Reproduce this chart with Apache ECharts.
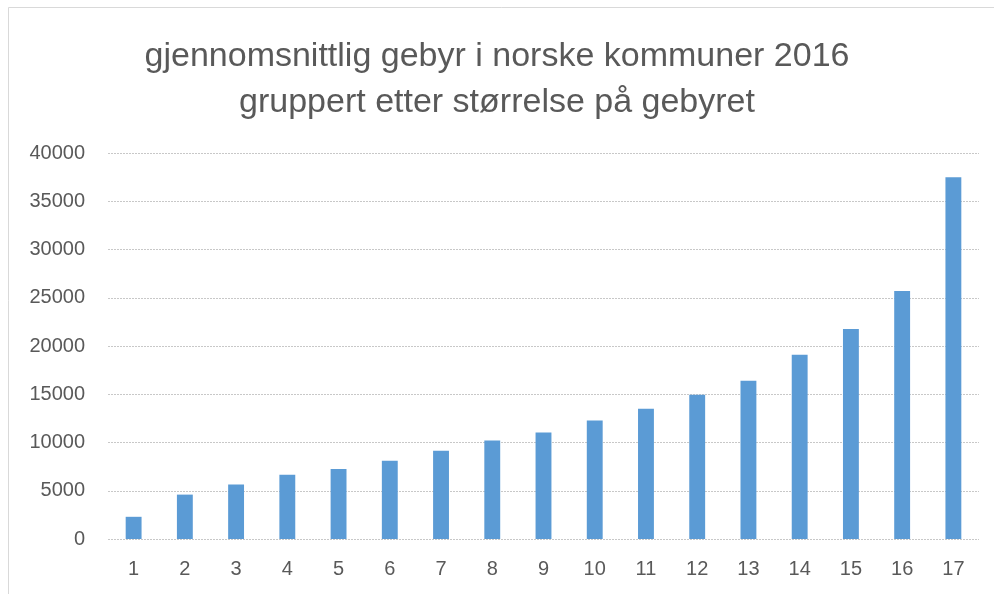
<!DOCTYPE html>
<html>
<head>
<meta charset="utf-8">
<script src="https://cdn.jsdelivr.net/npm/echarts@6/dist/echarts.min.js"></script>
<style>
html,body{margin:0;padding:0;background:#fff;}
#c{width:994px;height:594px;}
</style>
</head>
<body>
<div id="c"></div>
<script>
var categories = ['1','2','3','4','5','6','7','8','9','10','11','12','13','14','15','16','17'];
var values = [2300, 4600, 5640, 6670, 7250, 8110, 9140, 10200, 11030, 12270, 13500, 14950, 16390, 19100, 21750, 25700, 37480];
var titleLines = ['gjennomsnittlig gebyr i norske kommuner 2016', 'gruppert etter størrelse på gebyret'];

var chart = echarts.init(document.getElementById('c'));
chart.setOption({
  animation: false,
  backgroundColor: '#ffffff',
  graphic: [
    {type: 'line', shape: {x1: 8.5, y1: 7.5, x2: 994, y2: 7.5}, style: {stroke: '#d9d9d9', lineWidth: 1}},
    {type: 'line', shape: {x1: 8.5, y1: 7.5, x2: 8.5, y2: 594}, style: {stroke: '#d9d9d9', lineWidth: 1}}
  ],
  title: {
    text: titleLines.join('\n'),
    left: 'center',
    top: 29,
    textStyle: {
      fontFamily: 'Liberation Sans',
      fontSize: 34,
      fontWeight: 'normal',
      color: '#595959',
      lineHeight: 46
    }
  },
  grid: {left: 108, right: 15, top: 153, bottom: 55, containLabel: false},
  xAxis: {
    type: 'category',
    data: categories,
    axisLine: {show: false},
    axisTick: {show: false},
    axisLabel: {
      color: '#595959',
      fontFamily: 'Liberation Sans',
      fontSize: 20,
      margin: 20
    }
  },
  yAxis: {
    type: 'value',
    min: 0,
    max: 40000,
    interval: 5000,
    axisLine: {show: false},
    axisTick: {show: false},
    axisLabel: {
      color: '#595959',
      fontFamily: 'Liberation Sans',
      fontSize: 20,
      margin: 23,
      formatter: function (v) { return String(v); }
    },
    splitLine: {lineStyle: {color: '#c8c8c8', type: [2, 1], width: 1}}
  },
  series: [{
    type: 'bar',
    data: values,
    barWidth: '31%',
    itemStyle: {color: '#5b9bd5'}
  }]
});
</script>
</body>
</html>
